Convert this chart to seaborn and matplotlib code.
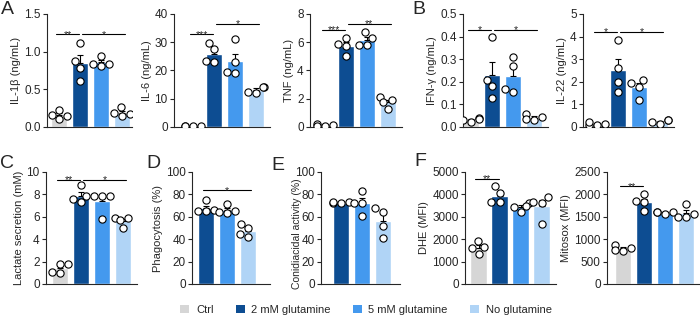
import warnings
import numpy as np
import pandas as pd
import matplotlib
matplotlib.use("Agg")
import matplotlib.pyplot as plt
from matplotlib.patches import Patch
import seaborn as sns

warnings.filterwarnings("ignore")

# ---- data ----
groups = ["Ctrl", "2 mM glutamine", "5 mM glutamine", "No glutamine"]
colors = ["#d6d6d6", "#0d4d92", "#4499ee", "#b0d4f6"]

il1b = [[0.23, 0.16, 0.14, 0.10], [1.12, 0.87, 0.78, 0.61],
        [0.94, 0.84, 0.84, 0.81], [0.26, 0.18, 0.17, 0.15]]
il6 = [[0.3, 0.4, 0.3, 0.2], [27.5, 29.8, 23.1, 23.4],
       [31.1, 23.1, 19.2, 19.4], [14.2, 14.0, 12.3, 12.1]]
tnf = [[0.15, 0.2, 0.1, 0.1], [6.3, 5.7, 5.0, 5.9],
       [6.7, 6.3, 5.8, 5.8], [2.1, 1.9, 1.3, 1.8]]
ifng = [[0.02, 0.03, 0.04, 0.035], [0.40, 0.21, 0.18, 0.13],
        [0.31, 0.27, 0.17, 0.155], [0.056, 0.037, 0.03, 0.044]]
il22 = [[0.15, 0.1, 0.1, 0.2], [3.85, 2.6, 2.0, 1.55],
        [2.1, 1.95, 1.78, 1.2], [0.3, 0.3, 0.2, 0.15]]
lactate = [[1.8, 1.8, 1.1, 1.0], [8.8, 7.9, 7.6, 7.3],
           [7.9, 7.9, 7.9, 5.8], [5.9, 5.9, 5.7, 5.0]]
phago = [None, [74.7, 65, 65, 66], [71, 65, 64, 63], [54, 50, 42, 45]]
conid = [None, [73.5, 72, 72, 73.5], [83.3, 72, 72, 60.7], [64, 67.6, 51.8, 40.8]]
dhe = [[1920, 1640, 1590, 1340], [4375, 4050, 3675, 3675],
       [3600, 3500, 3450, 3200], [3870, 3630, 3680, 2660]]
mitosox = [[873, 800, 760, 746], [2015, 1843, 1828, 1620],
           [1597, 1597, 1597, 1567], [1791, 1567, 1492, 1492]]

# (values, ylabel, ymax, ystep, decimals, significance list (i, j, y, stars))
panels = [
    (il1b, "IL-1\u03b2 (ng/mL)", 1.5, 0.5, 1, [(0, 1, 1.23, "**"), (1, 3, 1.23, "*")]),
    (il6, "IL-6 (ng/mL)", 40, 10, 0, [(0, 1, 32.8, "***"), (1, 3, 36.5, "*")]),
    (tnf, "TNF (ng/mL)", 8, 2, 0, [(0, 1, 6.9, "***"), (1, 3, 7.3, "**")]),
    (ifng, "IFN-\u03b3 (ng/mL)", 0.5, 0.1, 1, [(0, 1, 0.43, "*"), (1, 3, 0.43, "*")]),
    (il22, "IL-22 (ng/mL)", 5, 1, 0, [(0, 1, 4.2, "*"), (1, 3, 4.2, "*")]),
    (lactate, "Lactate secretion (mM)", 10, 2, 0, [(0, 1, 9.3, "**"), (1, 3, 9.3, "*")]),
    (phago, "Phagocytosis (%)", 100, 20, 0, [(0, 2, 83.5, "*")]),
    (conid, "Conidiacidal activity (%)", 100, 20, 0, []),
    (dhe, "DHE (MFI)", 5000, 1000, 0, [(0, 1, 4700, "**")]),
    (mitosox, "Mitosox (MFI)", 2500, 500, 0, [(0, 1, 2180, "**")]),
]

# axes boxes in pixels: left spine, first bar centre, right end, top, bottom
boxes = [
    (47, 59, 132, 14, 127), (174, 193, 270, 14, 127), (310, 325, 402, 14, 127),
    (463, 471, 548, 14, 127), (583, 597, 674, 14, 127),
    (46, 60, 137, 172, 284), (192, 206, 270, 172, 284), (321, 341, 400, 172, 284),
    (465, 478.5, 556, 172, 284), (607, 623, 699, 172, 284),
]
# y-label tucked closer to the axis (px left of spine, axes-fraction height, size)
label_pos = {7: (-19, 0.45, 7.5)}
letters = [("A", 1, 1), ("B", 412, 1), ("C", 0, 155), ("D", 146, 155),
           ("E", 271, 157), ("F", 414, 153)]

sns.set_style("ticks")
plt.rcParams["font.family"] = ["Liberation Sans", "DejaVu Sans"]
plt.rcParams["axes.linewidth"] = 0.8

W, H = 700, 317
fig = plt.figure(figsize=(W / 100, H / 100), dpi=100)
step = 21.0

for k, ((vals, ylabel, ymax, ystep, dec, sigs), (L, c0, R, T, B)) in enumerate(zip(panels, boxes)):
    ax = fig.add_axes([L / W, (H - B) / H, (R - L) / W, (B - T) / H])
    present = [g for g, v in zip(groups, vals) if v is not None]
    pal = {g: c for g, c in zip(groups, colors)}
    rows = [(g, x) for g, v in zip(groups, vals) if v is not None for x in v]
    df = pd.DataFrame(rows, columns=["group", "value"])

    sns.barplot(data=df, x="group", y="value", order=present, hue="group",
                palette=pal, errorbar=None, width=0.8, saturation=1,
                legend=False, ax=ax, zorder=2)
    stats = df.groupby("group")["value"].agg(["mean", "std", "count"]).loc[present]
    sem = stats["std"] / np.sqrt(stats["count"])
    xs = np.arange(len(present))
    ax.errorbar(xs, stats["mean"], yerr=[np.zeros(len(xs)), sem], fmt="none",
                ecolor="black", elinewidth=0.8, capsize=2.5, capthick=0.8, zorder=3)
    sns.swarmplot(data=df, x="group", y="value", order=present, color="white",
                  edgecolor="black", linewidth=0.8, size=5.2, ax=ax, zorder=4)

    last = len(present) - 1
    for i, j, y, txt in sigs:
        x1 = i - 0.15 if i == 0 else i + 0.08
        x2 = j + 0.15 if j == last else j - 0.03
        ax.plot([x1, x2], [y, y], color="black", lw=0.8, clip_on=False)
        ax.annotate(txt, ((x1 + x2) / 2, y), xytext=(0, -3.8),
                    textcoords="offset points", ha="center", va="bottom", fontsize=7.5)

    ax.set_xlim(-(c0 - L) / step, (R - c0) / step)
    ax.set_ylim(0, ymax)
    ticks = np.arange(0, ymax + ystep / 2, ystep)
    ax.set_yticks(ticks)
    ax.set_yticklabels([f"{t:.{dec}f}" for t in ticks])
    ax.set_xticks([])
    ax.set_xlabel("")
    ax.set_ylabel(ylabel, fontsize=8, labelpad=2)
    if k in label_pos:
        dx, fy, fs = label_pos[k]
        ax.yaxis.set_label_coords(dx / (R - L), fy)
        ax.yaxis.label.set_fontsize(fs)
    ax.tick_params(axis="y", labelsize=8.5, length=3, width=0.8, pad=1.5)
    sns.despine(ax=ax)

for txt, x, y in letters:
    fig.text(x / W, 1 - y / H, txt, fontsize=14, va="top", ha="left")

handles = [Patch(facecolor=c, edgecolor="none", label=g) for g, c in zip(groups, colors)]
fig.legend(handles=handles, loc="center", bbox_to_anchor=(366 / W, 1 - 310 / H),
           ncol=4, frameon=False, fontsize=8, handlelength=0.8, handleheight=0.8,
           handletextpad=0.6, columnspacing=2.0)

fig.savefig("out.png", dpi=100)
